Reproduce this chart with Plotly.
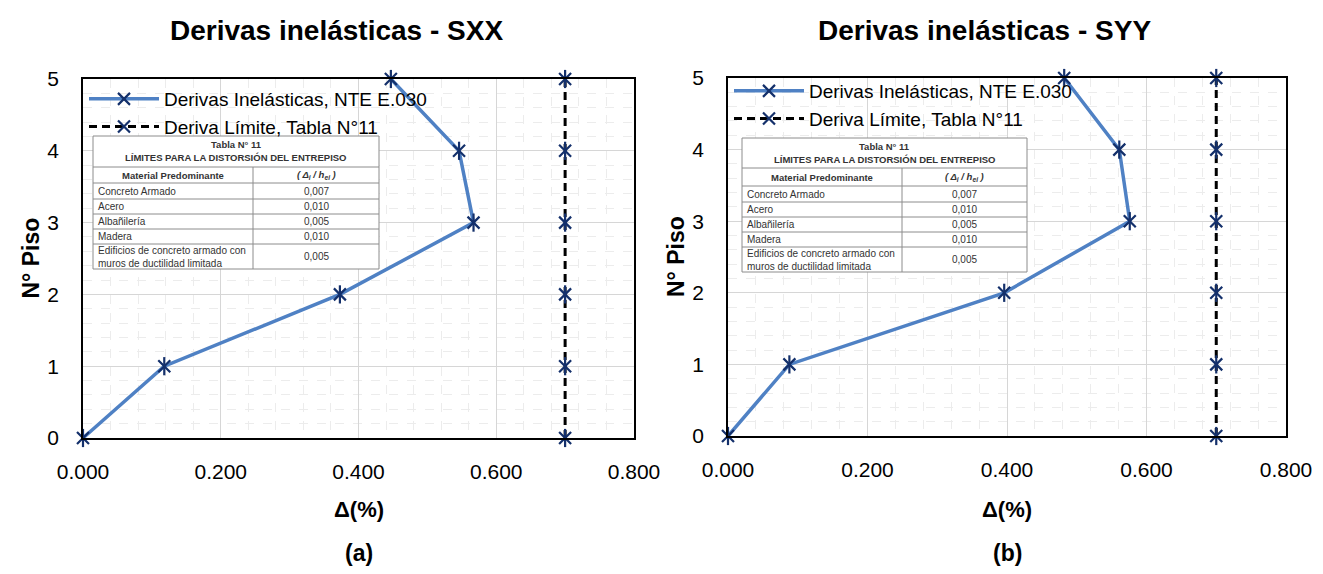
import plotly.graph_objects as go

# ---- data -------------------------------------------------------------
pisos = [0, 1, 2, 3, 4, 5]
deriva_sxx = [0.000, 0.118, 0.373, 0.567, 0.546, 0.447]
deriva_syy = [0.000, 0.088, 0.396, 0.576, 0.561, 0.482]
deriva_limite = [0.700] * 6

x_ticks = [0.0, 0.2, 0.4, 0.6, 0.8]
y_ticks = [0, 1, 2, 3, 4, 5]

tabla_materiales = ["Concreto Armado", "Acero", "Albañilería", "Madera",
                    "Edificios de concreto armado con<br>muros de ductilidad limitada"]
tabla_limites = ["0,007", "0,010", "0,005", "0,010", "0,005"]

# ---- page geometry (pixels) ---------------------------------------------
W, H = 1323, 574
FONT = "Arial, Liberation Sans, sans-serif"
NAVY = "#14306b"
BLUE = "#4f81c4"


def px(x):
    return x / W


def py(y):
    return 1 - y / H


def label(text, x, y, size, color="black", **kw):
    d = dict(text=text, x=px(x), y=py(y), xref="paper", yref="paper",
             xanchor="center", yanchor="middle", showarrow=False,
             font=dict(size=size, family=FONT, color=color))
    d.update(kw)
    return d


panels = [
    dict(data=deriva_sxx, title="Derivas inelásticas - SXX", tag="(a)",
         x0=83, x1=634, y0=79, y1=438, xa="x", ya="y", legend="legend",
         ytitle_x=30, leg_top=80,
         table=(93, 379, 136, [167, 183, 199, 214, 229, 244], 269, 253)),
    dict(data=deriva_syy, title="Derivas inelásticas - SYY", tag="(b)",
         x0=728, x1=1286, y0=78, y1=436, xa="x2", ya="y2", legend="legend2",
         ytitle_x=676, leg_top=72,
         table=(742, 1027, 138, [168, 186, 202, 217, 232, 247], 272, 902)),
]

fig = go.Figure()
annotations = []
shapes = []

star = dict(size=12, color=NAVY, line=dict(width=2.2, color=NAVY))

for i, p in enumerate(panels):
    xa, ya = p["xa"], p["ya"]
    # drift curve
    fig.add_trace(go.Scatter(
        x=p["data"], y=pisos, xaxis=xa, yaxis=ya, mode="lines+markers",
        name="Derivas Inelásticas, NTE E.030", legend=p["legend"],
        legendgroup=f"g1{i}",
        line=dict(color=BLUE, width=3.5),
        marker=dict(star, symbol="x-thin-open"),
        cliponaxis=False))
    fig.add_trace(go.Scatter(
        x=p["data"], y=pisos, xaxis=xa, yaxis=ya, mode="markers",
        showlegend=False, hoverinfo="skip",
        marker=dict(star, symbol="line-ns-open", size=13),
        cliponaxis=False))
    # limit line
    fig.add_trace(go.Scatter(
        x=deriva_limite, y=pisos, xaxis=xa, yaxis=ya, mode="lines+markers",
        name="Deriva Límite, Tabla N°11", legend=p["legend"],
        legendgroup=f"g2{i}",
        line=dict(color="black", width=3, dash="8px,5px"),
        marker=dict(star, symbol="x-thin-open"),
        cliponaxis=False))
    fig.add_trace(go.Scatter(
        x=deriva_limite, y=pisos, xaxis=xa, yaxis=ya, mode="markers",
        showlegend=False, hoverinfo="skip",
        marker=dict(star, symbol="line-ns-open", size=13),
        cliponaxis=False))

    cx = (p["x0"] + p["x1"]) / 2
    annotations += [
        label(f"<b>{p['title']}</b>", cx - 22, 30, 28),
        label("<b>Δ(%)</b>", cx, 509, 22),
        label(f"<b>{p['tag']}</b>", cx, 553, 23),
        label("<b>N° Piso</b>", p["ytitle_x"], (p["y0"] + p["y1"]) / 2, 23, textangle=-90),
    ]

    # Tabla N° 11 inset
    tl, tr, tt, rows, tb, tdiv = p["table"]
    line_c = "#8c8c8c"
    shapes.append(dict(type="rect", xref="paper", yref="paper",
                       x0=px(tl), x1=px(tr), y0=py(tb), y1=py(tt),
                       line=dict(color=line_c, width=1), fillcolor="white", layer="above"))
    for r in rows:
        shapes.append(dict(type="line", xref="paper", yref="paper",
                           x0=px(tl), x1=px(tr), y0=py(r), y1=py(r),
                           line=dict(color=line_c, width=1), layer="above"))
    shapes.append(dict(type="line", xref="paper", yref="paper",
                       x0=px(tdiv), x1=px(tdiv), y0=py(rows[0]), y1=py(tb),
                       line=dict(color=line_c, width=1), layer="above"))
    tc = "#333333"
    tmid = (tl + tr) / 2
    hmid = (rows[0] + rows[1]) / 2
    annotations += [
        label("<b>Tabla N° 11</b>", tmid, tt + 8.5, 9.5, tc),
        label("<b>LÍMITES PARA LA DISTORSIÓN DEL ENTREPISO</b>", tmid, tt + 22, 9.5, tc),
        label("<b>Material Predominante</b>", (tl + tdiv) / 2, hmid, 9.5, tc),
        label("<b><i>( Δ<sub>i</sub> / h<sub>ei</sub> )</i></b>", (tdiv + tr) / 2, hmid, 9.5, tc),
    ]
    bounds = rows[1:] + [tb]
    for k, (mat, lim) in enumerate(zip(tabla_materiales, tabla_limites)):
        ymid = (bounds[k] + bounds[k + 1]) / 2
        annotations += [
            label(mat, tl + 3, ymid, 10, tc, xanchor="left", align="left"),
            label(lim, (tdiv + tr) / 2, ymid, 10, tc),
        ]

axis_common = dict(showline=True, mirror=True, linecolor="black", linewidth=1.5,
                   showgrid=True, gridcolor="#d6d6d6", gridwidth=1.2, zeroline=False,
                   ticks="", automargin=False,
                   tickfont=dict(size=21, family=FONT, color="black"))

layout = dict(
    width=W, height=H, margin=dict(l=0, r=0, t=0, b=0),
    paper_bgcolor="white", plot_bgcolor="white",
    font=dict(family=FONT, color="black"),
    annotations=annotations, shapes=shapes,
)
for i, p in enumerate(panels):
    sx = "" if i == 0 else "2"
    layout[f"xaxis{sx}"] = dict(
        axis_common, domain=[px(p["x0"]), px(p["x1"])], range=[0, 0.8],
        tickvals=x_ticks, tickformat=".3f", ticklabelstandoff=14,
        anchor=f"y{sx}",
        minor=dict(dtick=0.04, showgrid=True, gridcolor="#ececec", griddash="dash",
                   gridwidth=1))
    layout[f"yaxis{sx}"] = dict(
        axis_common, domain=[py(p["y1"]), py(p["y0"])], range=[0, 5],
        tickvals=y_ticks, ticklabelstandoff=18,
        anchor=f"x{sx}",
        minor=dict(dtick=0.2, showgrid=True, gridcolor="#ececec", griddash="dash",
                   gridwidth=1))
    layout[p["legend"]] = dict(
        x=px(p["x0"] + 1), y=py(p["leg_top"]), xref="paper", yref="paper",
        xanchor="left", yanchor="top", bgcolor="rgba(0,0,0,0)",
        font=dict(size=19, family=FONT, color="black"),
        itemwidth=70, tracegroupgap=0, traceorder="grouped",
        itemclick=False)

fig.update_layout(**layout)
fig.write_html("out.html")
